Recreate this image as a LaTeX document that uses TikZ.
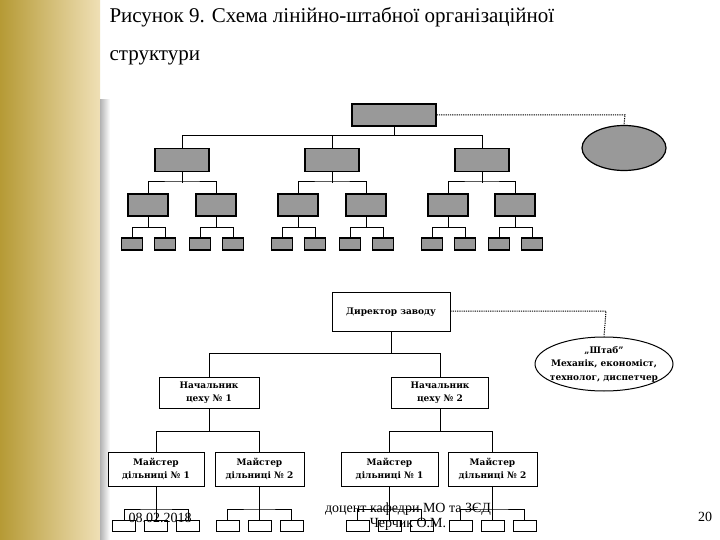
\documentclass[tikz,border=0pt]{standalone}
\usepackage{fontspec}
\setmainfont{Liberation Serif}
\newfontfamily\lblfont{DejaVu Serif}
\usetikzlibrary{shapes.geometric,calc}
\begin{document}
\begin{tikzpicture}[x=1pt,y=-1pt,
  gbox/.style={draw=black,line width=1.6pt,fill=black!40,inner sep=0pt},
  lbl/.style={font=\lblfont\bfseries\fontsize{9}{13.5}\selectfont},
  wbox/.style={draw=black,line width=1pt,fill=white,inner sep=0pt,align=center,lbl},
  wire/.style={line width=1pt},
  dotline/.style={dash pattern=on 1.2pt off 1pt,line width=1pt}]
\useasboundingbox (0,0) rectangle (720,540);
\fill[white] (0,0) rectangle (720,540);
\shade[left color=brown!60!yellow!80!black!90,right color=yellow!30!brown!35!white] (0,0) rectangle (100,540);
\shade[left color=black!30,right color=white] (100,100) rectangle (110,540);
% title
\node[anchor=west,font=\fontsize{21}{23}\selectfont] (t1) at (106,17) {Рисунок 9. Схема лінійно-штабної організаційної};
\node[anchor=west,font=\fontsize{21}{23}\selectfont] (t2) at (106,58) {структури};
% ===== top chart =====
\node[gbox,minimum width=84pt,minimum height=22pt] (A) at (394,115) {};
\node[ellipse,draw=black,line width=1.2pt,fill=black!40,minimum width=84pt,minimum height=45pt,inner sep=0pt] (E) at (624,148) {};
\draw[dotline] (A.east) -- (625,115) -- (E.north);
\foreach \c/\i in {182/1,332/2,482/3}{
  \node[gbox,minimum width=54pt,minimum height=23pt] (B\i) at (\c,160) {};
}
\draw[wire] (A.south) -- (394,136);
\draw[wire] (B1.north) -- (182,136) -- (482,136) -- (B3.north);
\draw[wire] (B2.north) -- (332,136);
\foreach \c/\i in {148/1,216/2,298/3,366/4,448/5,515/6}{
  \node[gbox,minimum width=40pt,minimum height=22pt] (C\i) at (\c,205) {};
}
\foreach \p in {1,2,3}{
  \draw[wire] (B\p.south) -- ($(B\p.south)+(0,11)$);
}
\foreach \i in {1,...,6}{
  \node[gbox,minimum width=21pt,minimum height=12pt] (D\i a) at ($(C\i.center)+(-16,39)$) {};
  \node[gbox,minimum width=21pt,minimum height=12pt] (D\i b) at ($(C\i.center)+(17,39)$) {};
  \draw[wire] (C\i.south) -- ($(C\i.south)+(0,11)$);
  \draw[wire] (D\i a.north) |- ($(C\i.south)+(0,11)$) -| (D\i b.north);
}
\draw[wire] (C1.north) |- (B1.south |- 0,182) -| (C2.north);
\draw[wire] (C3.north) |- (B2.south |- 0,182) -| (C4.north);
\draw[wire] (C5.north) |- (B3.south |- 0,182) -| (C6.north);
% ===== bottom chart =====
\node[wbox,minimum width=118pt,minimum height=39pt] (P) at (391,312) {Директор заводу};
\node[ellipse,draw=black,line width=1pt,fill=white,minimum width=138pt,minimum height=54pt,inner xsep=-9pt,inner ysep=-3pt,align=center,lbl] (S) at (604,364) {„Штаб”\\Механік, економіст,\\технолог, диспетчер};
\draw[dotline] (P.east |- 0,311) -- (606,311) -- (S.north);
\node[wbox,minimum width=100pt,minimum height=31pt] (Q1) at (209,392.5) {Начальник\\цеху № 1};
\node[wbox,minimum width=97pt,minimum height=31pt] (Q2) at (440,392.5) {Начальник\\цеху № 2};
\draw[wire] (P.south) -- (391,353);
\draw[wire] (Q1.north) |- (440,353) -- (Q2.north);
\node[wbox,minimum width=96pt,minimum height=34pt] (R1) at (156,469) {Майстер\\дільниці № 1};
\node[wbox,minimum width=89pt,minimum height=34pt] (R2) at (259.5,469) {Майстер\\дільниці № 2};
\node[wbox,minimum width=97pt,minimum height=34pt] (R3) at (389.5,469) {Майстер\\дільниці № 1};
\node[wbox,minimum width=89pt,minimum height=34pt] (R4) at (492.5,469) {Майстер\\дільниці № 2};
\draw[wire] (Q1.south) -- (209,431);
\draw[wire] (R1.north) |- (259.5,431) -- (R2.north);
\draw[wire] (Q2.south) -- (440,431);
\draw[wire] (R3.north) |- (492.5,431) -- (R4.north);
\foreach \i in {1,...,4}{
  \node[wbox,minimum width=23pt,minimum height=11pt] (L\i a) at ($(R\i.center)+(-32,57)$) {};
  \node[wbox,minimum width=23pt,minimum height=11pt] (L\i b) at ($(R\i.center)+(0,57)$) {};
  \node[wbox,minimum width=23pt,minimum height=11pt] (L\i c) at ($(R\i.center)+(32,57)$) {};
  \draw[wire] (R\i.south) -- (L\i b.north);
  \draw[wire] (L\i a.north) |- ($(R\i.center)+(0,40)$) -| (L\i c.north);
}
% footer
\node[font=\fontsize{14}{15}\selectfont] (f1) at (160,518) {08.02.2018};
\node[font=\fontsize{14}{15}\selectfont,align=center] (f2) at (408,517) {доцент кафедри МО та ЗЄД\\Черчик О.М.};
\node[font=\fontsize{14}{15}\selectfont] (f3) at (705,517) {20};
\end{tikzpicture}
\end{document}
